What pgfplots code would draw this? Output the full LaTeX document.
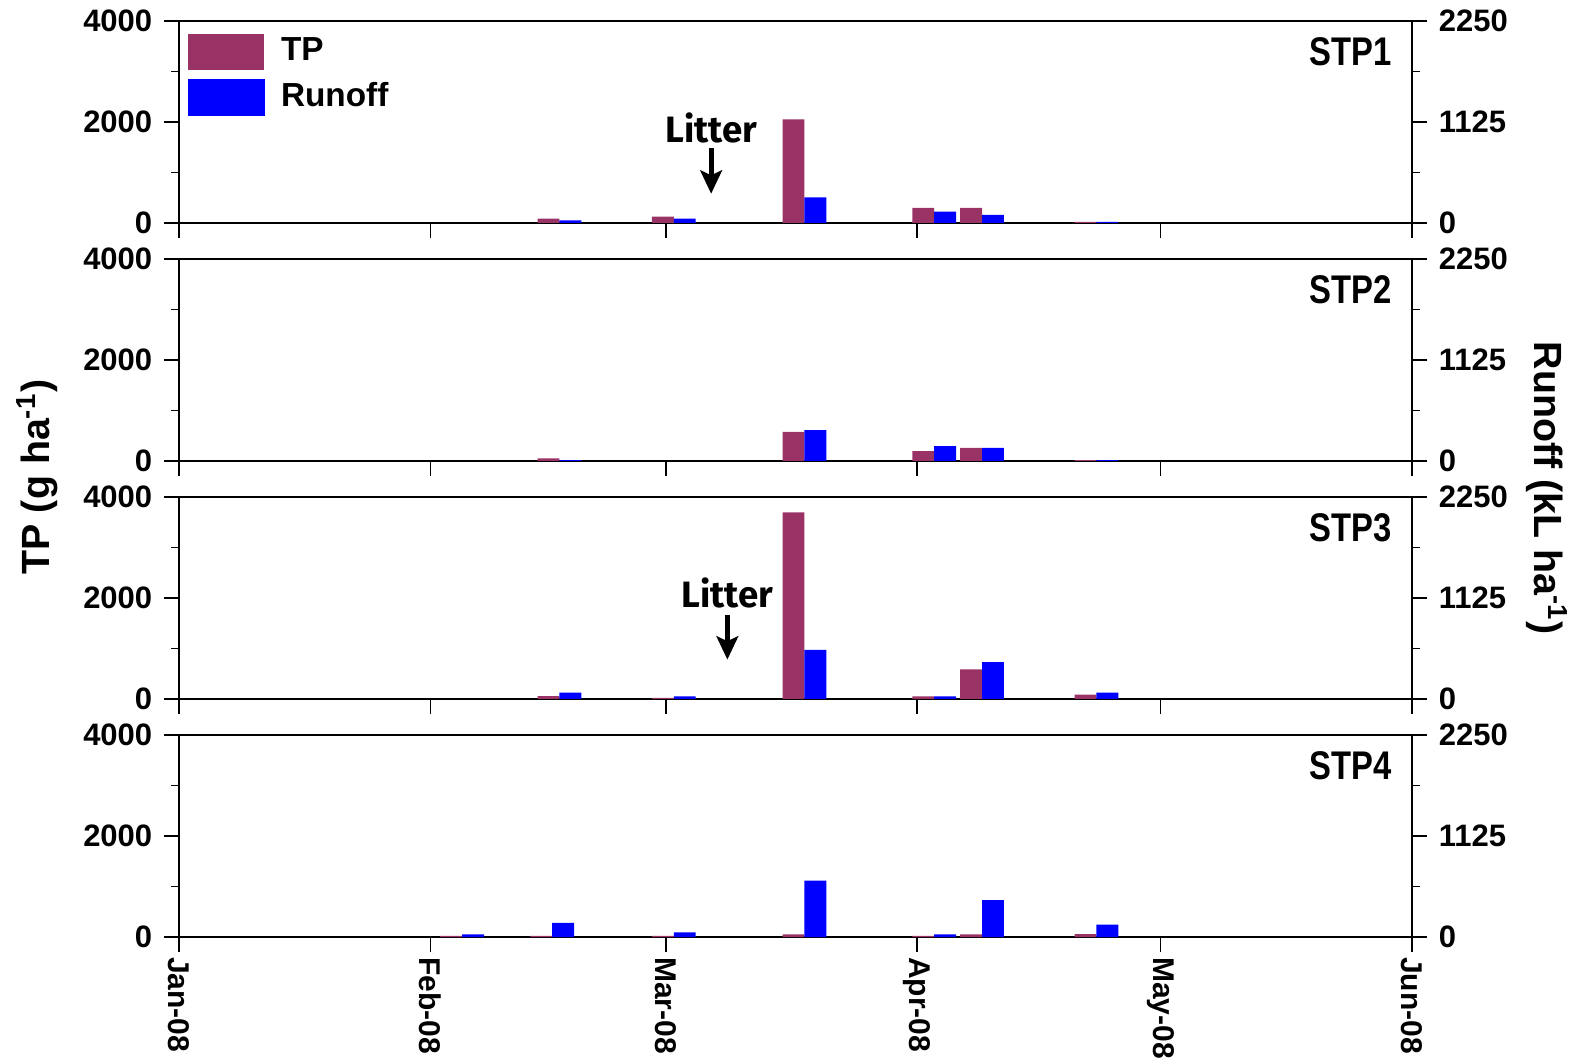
\documentclass[border=0pt]{standalone}
\usepackage{pgfplots}
\pgfplotsset{compat=1.18}
\usepackage{pgfplotstable}
\usepackage{fontspec}
\setmainfont{Liberation Sans}
\newfontfamily\litterfont{Fira Sans}
\newfontfamily\narrowfont[FakeStretch=0.82]{Liberation Sans}
\usetikzlibrary{arrows.meta}
\definecolor{tpcol}{RGB}{153,51,102}
\definecolor{rocol}{RGB}{0,0,255}

% day = days after 1 Jan 2008 (pair centre), tp = TP (g/ha), ro = runoff (kL/ha)
\pgfplotstableread{
day tp ro
46.9 86 30
61.0 125 48
77.1 2050 285
93.1 298 126
99.0 298 89
113.1 22 12
}\stpA
\pgfplotstableread{
day tp ro
46.9 52 11
77.1 575 345
93.1 195 165
99.0 258 146
113.1 18 10
}\stpB
\pgfplotstableread{
day tp ro
46.9 59 70
61.0 20 30
77.1 3695 546
93.1 53 30
99.0 585 410
113.1 86 70
}\stpC
\pgfplotstableread{
day tp ro
34.9 20 30
46.0 20 158
61.0 20 52
77.1 53 627
93.1 20 30
99.0 53 410
113.1 59 138
}\stpD

\tikzset{
  stp/.style={anchor=east, inner sep=0pt, font=\fontsize{12}{13}\selectfont\narrowfont\bfseries},
  litter/.style={font=\fontsize{11}{12}\selectfont\litterfont\bfseries},
  litarrow/.style={line width=1.5pt, -{Stealth[length=7pt,width=6.5pt,inset=1.5pt]}},
}
\pgfplotsset{
  panel/.style={
    scale only axis, width=369.9pt, height=60.6pt,
    xmin=0, xmax=152, ymin=0,
    tick align=outside, major tick length=4.5pt, minor tick length=2.4pt,
    tick style={black, line width=0.5pt},
    axis line style={line width=0.6pt},
    every tick label/.append style={font=\fontsize{9.3}{10}\selectfont\bfseries},
    /pgf/number format/assume math mode=true,
    /pgf/number format/1000 sep={},
    scaled y ticks=false,
    xtick={0,31,60,91,121,152},
    ybar, bar width=2.7,
  },
  lefta/.style={panel, ymax=4000, ytick={0,2000,4000}, minor ytick={1000,3000},
    xtick pos=left, ytick pos=left, xticklabels={}},
  righta/.style={panel, ymax=2250, ytick={0,1125,2250}, minor ytick={562.5,1687.5},
    axis x line=none, axis y line*=right},
  tpbar/.style={fill=tpcol, draw=none, bar shift=-1.35},
  robar/.style={fill=rocol, draw=none, bar shift=1.35},
}

\begin{document}
\begin{tikzpicture}
\useasboundingbox (0pt,0pt) rectangle (475.5pt,318pt);

% ---------- STP1 ----------
\begin{axis}[lefta, at={(53.7pt,311.7pt)}, anchor=north west,
  legend style={at={(rel axis cs:0,1)}, anchor=north west, xshift=2.4pt, yshift=-3.6pt,
    draw=none, fill=none, inner sep=0pt, row sep=2.7pt, legend cell align=left,
    font=\fontsize{10}{11}\selectfont\bfseries,
    nodes={inner sep=0pt},
    /tikz/every odd column/.append style={column sep=4.8pt}}]
\addplot[tpbar, legend image code/.code={\fill[tpcol] (0pt,-5.4pt) rectangle (22.8pt,5.4pt);}] table[x=day,y=tp]{\stpA};
\addlegendentry{TP}
\addlegendimage{legend image code/.code={\fill[rocol] (0pt,-5.4pt) rectangle (22.8pt,5.4pt);}}
\addlegendentry{Runoff}
\node[litter] at (axis cs:65.6,1881) {Litter};
\draw[litarrow] (axis cs:65.6,1480) -- (axis cs:65.6,580);
\node[stp] at (rel axis cs:0.984,0.846) {STP1};
\end{axis}
\begin{axis}[righta, at={(53.7pt,311.7pt)}, anchor=north west]
\addplot[robar] table[x=day,y=ro]{\stpA};
\end{axis}

% ---------- STP2 ----------
\begin{axis}[lefta, at={(53.7pt,240.3pt)}, anchor=north west]
\addplot[tpbar] table[x=day,y=tp]{\stpB};
\node[stp] at (rel axis cs:0.984,0.846) {STP2};
\end{axis}
\begin{axis}[righta, at={(53.7pt,240.3pt)}, anchor=north west]
\addplot[robar] table[x=day,y=ro]{\stpB};
\end{axis}

% ---------- STP3 ----------
\begin{axis}[lefta, at={(53.7pt,168.9pt)}, anchor=north west]
\addplot[tpbar] table[x=day,y=tp]{\stpC};
\node[litter] at (axis cs:67.6,2099) {Litter};
\draw[litarrow] (axis cs:67.6,1660) -- (axis cs:67.6,780);
\node[stp] at (rel axis cs:0.984,0.846) {STP3};
\end{axis}
\begin{axis}[righta, at={(53.7pt,168.9pt)}, anchor=north west]
\addplot[robar] table[x=day,y=ro]{\stpC};
\end{axis}

% ---------- STP4 ----------
\begin{axis}[lefta, at={(53.7pt,97.5pt)}, anchor=north west,
  xticklabels={Jan-08,Feb-08,Mar-08,Apr-08,May-08,Jun-08},
  xticklabel shift=-2pt,
  xticklabel style={rotate=-90, anchor=west, font=\fontsize{9}{10}\selectfont\bfseries}]
\addplot[tpbar] table[x=day,y=tp]{\stpD};
\node[stp] at (rel axis cs:0.984,0.846) {STP4};
\end{axis}
\begin{axis}[righta, at={(53.7pt,97.5pt)}, anchor=north west]
\addplot[robar] table[x=day,y=ro]{\stpD};
\end{axis}

% axis titles
\node[rotate=90, font=\fontsize{11.8}{13}\selectfont\bfseries] at (11.1pt,174.9pt) {TP (g ha\textsuperscript{-1})};
\node[rotate=-90, font=\fontsize{11.8}{13}\selectfont\bfseries] at (464.1pt,171.6pt) {Runoff (kL ha\textsuperscript{-1})};
\end{tikzpicture}
\end{document}
